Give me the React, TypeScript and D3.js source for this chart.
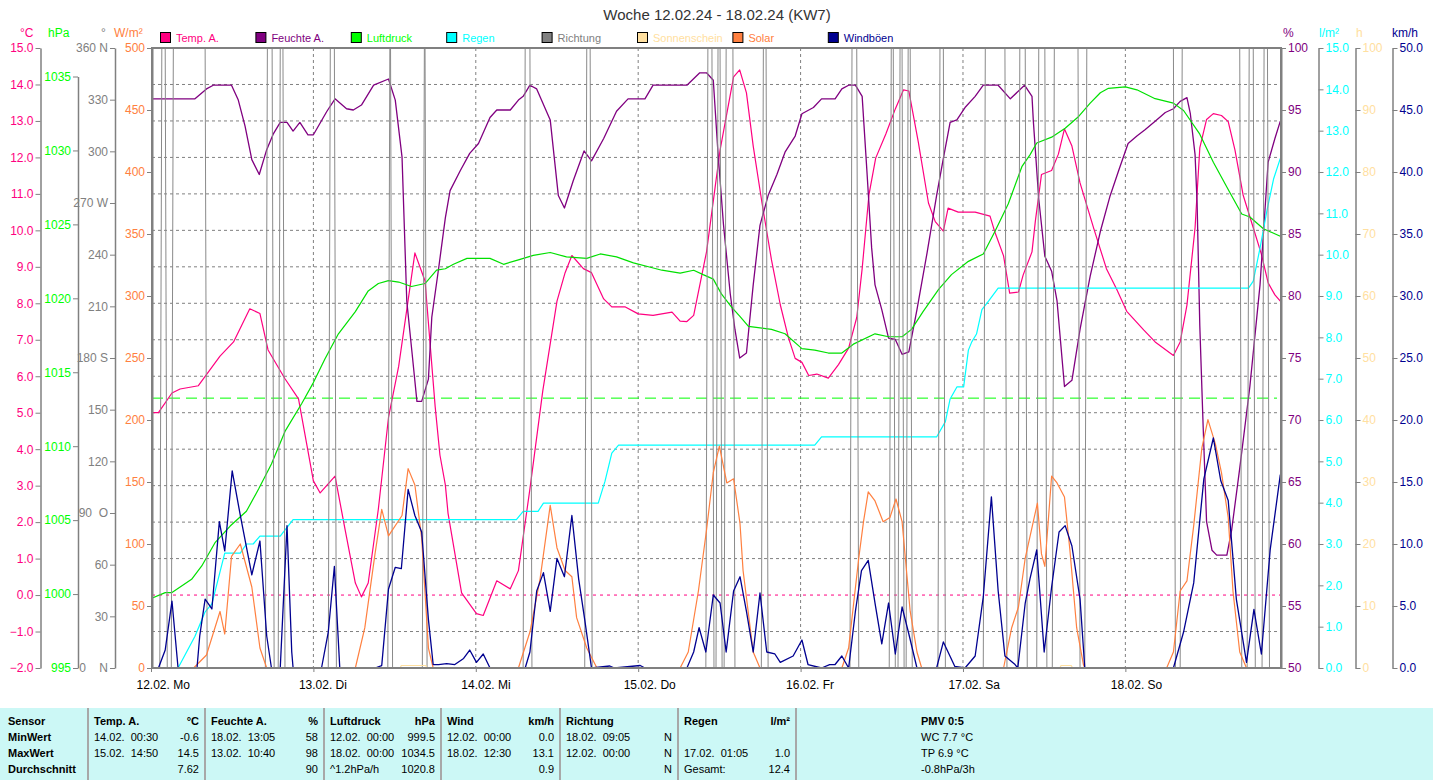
import React, { useEffect, useRef } from 'react';
import * as d3 from 'd3';

// [hours since 12.02. 00:00, value]
type Pt = [number, number];

const FONT = "'Liberation Sans', Arial, sans-serif";

const title = 'Woche 12.02.24 - 18.02.24 (KW7)';
const dayLabels = ['12.02. Mo', '13.02. Di', '14.02. Mi', '15.02. Do', '16.02. Fr', '17.02. Sa', '18.02. So'];

const tempData: Pt[] = [
  [0, 5.0], [1.1, 5.0], [3.1, 5.54], [4.3, 5.65], [7.0, 5.74], [10.2, 6.55], [12.2, 6.94], [14.6, 7.85],
  [16.1, 7.72], [17.3, 6.72], [19.8, 5.93], [21.8, 5.38], [24.0, 3.13], [25.0, 2.8], [27.2, 3.26], [28.7, 1.78],
  [30.2, 0.33], [31.1, -0.05], [32.1, 0.33], [33.6, 2.36], [35.1, 4.87], [36.6, 6.27], [39.0, 9.38], [40.5, 8.61],
  [42.0, 5.16], [42.7, 3.84], [43.5, 3.02], [43.9, 2.24], [45.9, 0.06], [48.1, -0.51], [49.1, -0.56], [51.1, 0.39],
  [53.1, 0.17], [54.3, 0.67], [56.0, 2.91], [57.9, 5.6], [60.0, 8.06], [61.2, 8.84], [62.2, 9.31], [63.9, 8.95],
  [65.1, 8.84], [66.9, 8.12], [68.1, 7.9], [70.1, 7.9], [72.0, 7.71], [74.2, 7.67], [77.0, 7.76], [78.2, 7.51],
  [79.2, 7.5], [80.2, 7.67], [82.1, 9.41], [84.1, 12.2], [86.1, 14.21], [87.0, 14.4], [88.0, 13.77], [89.0, 12.31],
  [90.3, 10.75], [91.7, 9.19], [93.0, 7.96], [94.2, 7.06], [95.2, 6.49], [96.2, 6.38], [97.2, 6.02], [98.4, 6.06],
  [100.1, 5.95], [101.6, 6.32], [103.1, 6.77], [104.3, 7.61], [105.1, 8.95], [106.1, 10.97], [107.1, 11.98],
  [108.6, 12.64], [110.0, 13.33], [111.2, 13.85], [112.0, 13.82], [113.4, 12.42], [114.9, 10.75], [115.9, 10.24],
  [117.1, 9.98], [117.8, 10.61], [119.3, 10.5], [121.8, 10.5], [124.0, 10.39], [124.7, 9.96], [126.0, 9.3],
  [126.9, 8.28], [128.2, 8.31], [128.9, 8.78], [130.2, 9.41], [130.7, 10.26], [131.6, 11.53], [133.1, 11.64],
  [134.1, 12.09], [135.0, 12.78], [136.1, 12.31], [137.3, 11.3], [139.3, 10.07], [141.2, 8.95], [142.7, 8.39],
  [144.2, 7.78], [146.7, 7.27], [148.4, 6.94], [151.1, 6.57], [152.1, 6.94], [153.1, 7.95], [154.3, 10.07],
  [155.0, 12.26], [156.0, 13.04], [157.0, 13.2], [158.2, 13.15], [159.2, 12.98], [160.2, 12.2], [161.4, 10.97],
  [162.9, 10.07], [164.1, 9.35], [165.1, 8.56], [166.1, 8.23], [166.9, 8.06],
];

const humData: Pt[] = [
  [0, 95.9], [6.5, 95.9], [8.2, 96.7], [9.2, 97.0], [11.9, 97.0], [12.9, 95.8], [13.9, 93.7], [14.9, 91.0],
  [16.0, 89.8], [17.1, 91.8], [18.1, 93.1], [19.1, 94.0], [20.1, 94.0], [21.0, 93.3], [22.0, 94.0], [23.2, 93.0],
  [24.0, 93.0], [26.0, 94.9], [27.2, 95.9], [28.9, 95.1], [29.9, 95.0], [31.1, 95.4], [32.9, 97.0], [35.1, 97.5],
  [36.1, 95.8], [37.1, 91.2], [37.8, 79.6], [38.6, 75.3], [39.3, 71.5], [40.0, 71.5], [41.0, 73.3], [41.5, 78.3],
  [42.5, 82.2], [43.5, 86.3], [44.2, 88.5], [45.7, 90.1], [47.1, 91.5], [48.4, 92.3], [50.1, 94.4], [51.1, 95.0],
  [53.1, 95.0], [54.3, 95.8], [55.0, 96.1], [56.0, 97.0], [57.0, 96.7], [59.0, 94.2], [60.2, 88.1], [61.1, 87.1],
  [62.4, 89.3], [64.0, 91.7], [65.1, 90.9], [66.9, 92.7], [68.8, 94.9], [70.5, 95.9], [73.0, 95.9], [74.2, 97.0],
  [79.2, 97.0], [81.1, 98.0], [82.1, 98.0], [83.1, 97.4], [83.8, 91.5], [84.6, 85.8], [85.6, 80.2], [86.3, 77.3],
  [87.0, 75.0], [88.0, 75.4], [89.0, 80.9], [90.0, 85.7], [91.2, 88.1], [92.5, 89.8], [93.7, 91.6], [95.2, 92.9],
  [96.2, 94.7], [97.9, 95.2], [99.1, 95.9], [101.1, 95.9], [102.1, 96.7], [103.1, 97.0], [104.1, 97.0],
  [105.1, 96.1], [105.8, 90.1], [106.5, 83.9], [107.0, 80.9], [108.0, 78.9], [109.0, 76.6], [110.0, 76.5],
  [111.0, 75.3], [112.0, 75.5], [113.2, 78.9], [114.7, 83.5], [116.1, 88.1], [117.1, 91.1], [118.1, 94.0],
  [119.1, 94.2], [120.3, 95.2], [121.8, 96.1], [123.0, 97.0], [125.2, 97.0], [127.0, 95.9], [129.1, 97.0],
  [130.2, 96.1], [130.4, 94.1], [131.2, 87.8], [132.1, 83.2], [133.1, 82.0], [133.9, 79.6], [135.0, 72.7],
  [136.1, 73.2], [137.3, 77.3], [138.8, 81.6], [140.3, 85.2], [141.7, 88.0], [143.0, 90.1], [144.4, 92.3],
  [145.7, 92.9], [146.9, 93.4], [148.4, 94.1], [149.9, 94.8], [151.1, 95.1], [152.1, 95.7], [153.1, 96.0],
  [153.6, 94.7], [154.3, 91.4], [154.6, 87.5], [155.0, 77.6], [155.5, 69.4], [156.0, 61.8], [156.8, 59.5],
  [157.5, 59.1], [159.0, 59.1], [159.7, 61.1], [160.9, 66.1], [162.4, 72.7], [163.9, 80.9], [165.1, 90.8],
  [166.1, 92.7], [166.9, 94.1],
];

const pressData: Pt[] = [
  [0, 999.7], [2.1, 1000.1], [3.1, 1000.1], [6.0, 1001.0], [7.5, 1001.9], [9.5, 1003.5], [11.7, 1004.6],
  [14.1, 1005.6], [15.9, 1007.1], [17.8, 1008.8], [19.8, 1011.0], [22.3, 1012.9], [24.0, 1014.3], [25.7, 1015.9],
  [27.7, 1017.6], [30.2, 1019.1], [32.1, 1020.5], [33.6, 1021.0], [35.1, 1021.2], [36.6, 1021.1], [38.5, 1020.8],
  [40.5, 1021.0], [42.2, 1021.9], [43.5, 1022.0], [44.7, 1022.3], [46.7, 1022.7], [50.1, 1022.7], [52.1, 1022.3],
  [54.3, 1022.6], [56.5, 1022.9], [59.0, 1023.1], [61.4, 1022.8], [64.4, 1022.7], [66.4, 1023.0], [68.8, 1022.8],
  [71.3, 1022.4], [73.8, 1022.1], [75.5, 1021.9], [78.2, 1021.7], [80.2, 1021.9], [81.6, 1021.6], [83.1, 1021.3],
  [84.3, 1020.3], [85.8, 1019.4], [87.0, 1018.8], [88.3, 1018.1], [91.7, 1017.9], [93.7, 1017.6], [96.2, 1016.6],
  [98.1, 1016.5], [100.1, 1016.3], [102.1, 1016.3], [103.8, 1016.9], [107.0, 1017.6], [109.0, 1017.4],
  [111.0, 1017.4], [112.4, 1017.9], [114.1, 1019.1], [116.4, 1020.6], [118.3, 1021.6], [120.8, 1022.5],
  [123.0, 1023.0], [124.7, 1024.5], [126.7, 1026.4], [128.7, 1028.9], [129.9, 1029.7], [130.9, 1030.5],
  [133.1, 1030.9], [135.1, 1031.5], [137.1, 1032.3], [138.8, 1033.2], [140.3, 1033.9], [141.5, 1034.2],
  [144.0, 1034.3], [145.7, 1034.1], [148.4, 1033.5], [151.1, 1033.2], [152.6, 1032.7], [155.0, 1031.1],
  [157.0, 1029.2], [159.5, 1027.1], [161.2, 1025.7], [162.4, 1025.5], [164.4, 1024.7], [166.9, 1024.2],
];

const rainData: Pt[] = [
  [0, 0], [4.0, 0], [6.5, 0.77], [8.0, 1.36], [9.0, 1.55], [10.9, 2.78], [13.2, 2.78], [14.1, 3.0], [15.1, 3.0],
  [16.1, 3.19], [19.1, 3.19], [21.0, 3.59], [54.0, 3.59], [55.0, 3.79], [57.2, 3.79], [58.0, 3.99], [66.1, 3.99],
  [67.1, 4.52], [68.1, 5.2], [69.1, 5.39], [98.1, 5.39], [99.1, 5.59], [116.1, 5.59], [117.4, 5.96], [118.1, 6.51],
  [119.1, 6.8], [120.1, 6.8], [120.8, 7.69], [121.3, 7.89], [122.0, 8.08], [122.8, 8.67], [123.8, 8.88],
  [125.2, 9.19], [162.2, 9.19], [162.9, 9.36], [163.9, 10.16], [164.9, 11.05], [165.9, 11.83], [166.9, 12.33],
];

const solarData: Pt[] = [
  [0, 0], [6.3, 0], [8.2, 10.5], [10.2, 45.6], [10.9, 27.4], [11.9, 90.1], [13.2, 100], [14.9, 65.3], [16.1, 16.1],
  [17.1, 0], [30.2, 0], [31.6, 32.5], [33.1, 91.9], [34.1, 127.9], [35.1, 106.5], [37.1, 123], [38.0, 160.8],
  [39.0, 147.6], [40.0, 104.8], [41.0, 16.1], [41.7, 0], [54.3, 0], [56.0, 29], [57.5, 71.9], [59.0, 131.2],
  [60.0, 96.8], [61.2, 78.6], [62.2, 73.6], [62.9, 40.6], [64.4, 16.1], [65.9, 0], [78.2, 0], [79.4, 12.9],
  [80.9, 62.1], [82.1, 111.3], [83.1, 157.5], [84.0, 179], [85.1, 149.2], [86.1, 152.6], [87.05, 116.4],
  [87.5, 78.6], [89.0, 12.9], [90.0, 0], [102.1, 0], [103.1, 16.1], [104.6, 88.7], [105.3, 118], [106.0, 142],
  [107.0, 134.7], [108.2, 118], [109.2, 121.3], [110.1, 136.3], [111.0, 118], [112.2, 45.6], [113.2, 12.9],
  [113.9, 0], [126.0, 0], [127.2, 32.5], [128.2, 49.2], [129.2, 88.7], [131.0, 133], [131.6, 92], [132.1, 81.9],
  [133.1, 154.8], [133.9, 149.2], [135.0, 137.9], [135.8, 95.2], [136.8, 32.5], [137.8, 2.8], [138.0, 0],
  [150.1, 0], [151.1, 12.9], [152.1, 62.1], [153.1, 70.2], [154.1, 114.8], [155.3, 177.4], [156.2, 200.3],
  [157.3, 180.7], [158.2, 157.5], [159.2, 121.3], [159.9, 62.1], [160.9, 12.9], [161.9, 0], [166.9, 0],
];

const sunData: Pt[] = [
  [0, 0], [36.8, 0], [37.0, 0.4], [40.6, 0.4], [40.8, 0], [134.3, 0], [134.5, 0.4], [136.0, 0.4], [136.2, 0], [166.9, 0],
];

const gustData: Pt[] = [
  [0, 0], [1.1, 0], [2.1, 1.45], [3.1, 5.4], [4.0, 0], [6.8, 0], [7.2, 2.58], [8.0, 5.56], [9.0, 4.76],
  [10.1, 11.8], [10.9, 9.44], [12.0, 15.9], [13.2, 12.3], [14.9, 7.52], [16.1, 10.24], [17.1, 2.58], [17.8, 0],
  [19.1, 0], [20.1, 11.48], [20.8, 1.29], [21.0, 0], [25.2, 0], [26.2, 2.9], [27.1, 8.19], [27.9, 0], [33.1, 0],
  [34.1, 0.2], [35.1, 6.37], [36.1, 8.12], [37.0, 8.02], [38.0, 14.4], [39.0, 12.3], [40.0, 10.97], [41.0, 3.9],
  [41.7, 0.28], [42.5, 0.28], [43.7, 0.35], [44.9, 0.28], [46.2, 0.77], [47.1, 1.45], [48.1, 0.45], [49.1, 1.13],
  [50.1, 0], [55.3, 0], [56.0, 1.29], [57.0, 6.21], [58.0, 7.69], [59.0, 4.56], [60.0, 8.84], [61.1, 7.36],
  [62.2, 12.3], [63.2, 7.19], [64.1, 3.9], [65.1, 0], [67.8, 0.16], [68.5, 0], [72.3, 0.2], [73.0, 0], [79.2, 0],
  [80.2, 1.29], [81.0, 3.25], [82.0, 1.29], [83.1, 5.89], [84.1, 5.24], [85.0, 1.29], [86.1, 6.21], [87.05, 7.36],
  [88.0, 4.56], [89.0, 1.29], [90.0, 6.05], [91.0, 1.29], [92.2, 1.13], [93.0, 0.45], [94.9, 0.97], [96.2, 2.26],
  [97.1, 0.28], [99.1, 0], [100.3, 0.28], [101.1, 0.28], [102.1, 0.97], [103.1, 0], [104.1, 4.56], [105.0, 7.86],
  [106.0, 8.68], [107.0, 5.24], [108.0, 1.94], [109.0, 5.24], [110.0, 1.13], [111.0, 4.92], [112.0, 2.74],
  [113.2, 0], [116.1, 0], [117.1, 2.1], [118.8, 0.12], [120.3, 0], [121.8, 0.97], [123.0, 5.73], [124.2, 13.8],
  [125.2, 6.21], [126.2, 0.97], [127.7, 0.28], [128.1, 0], [129.2, 5.24], [129.9, 7.19], [130.9, 9.52],
  [132.0, 1.29], [133.1, 6.53], [134.2, 10.97], [135.1, 11.48], [136.1, 9.84], [137.3, 5.56], [138.0, 0],
  [151.1, 0], [152.6, 2.9], [154.1, 6.86], [155.6, 15.26], [157.0, 18.55], [158.1, 15.1], [159.2, 13.5],
  [160.4, 5.56], [161.9, 0.45], [163.0, 4.73], [164.1, 1.13], [165.4, 9.52], [166.9, 15.6],
];

// wind direction flips between 0° (N) and 360° (N) at these hours
const dirSwitchHours = [
  1.3, 2.1, 3.0, 8.0, 16.9, 17.9, 18.8, 19.5, 26.2, 27.1, 35.0, 35.4, 40.1, 40.5, 55.0, 56.0, 64.1, 64.9,
  82.0, 82.9, 83.5, 84.1, 84.7, 86.0, 90.2, 90.9, 103.3, 104.3, 109.1, 109.7, 110.4, 111.0, 111.6, 112.2,
  116.3, 117.1, 123.0, 126.2, 128.1, 129.2, 130.9, 132.1, 133.2, 137.0, 138.0, 151.1, 152.1, 160.9, 162.0,
  162.9, 164.2, 165.0,
];

const legendItems = [
  { label: 'Temp. A.', color: '#FF0080' },
  { label: 'Feuchte A.', color: '#800080' },
  { label: 'Luftdruck', color: '#00FF00' },
  { label: 'Regen', color: '#00FFFF' },
  { label: 'Richtung', color: '#808080' },
  { label: 'Sonnenschein', color: '#FFE0A0' },
  { label: 'Solar', color: '#FF8040' },
  { label: 'Windböen', color: '#000090' },
];

const tableHead = [['Temp. A.', '°C'], ['Feuchte A.', '%'], ['Luftdruck', 'hPa'], ['Wind', 'km/h'], ['Richtung', ''], ['Regen', 'l/m²']];
const tableMin = [['14.02.  00:30', '-0.6'], ['18.02.  13:05', '58'], ['12.02.  00:00', '999.5'], ['12.02.  00:00', '0.0'], ['18.02.  09:05', 'N'], ['', '']];
const tableMax = [['15.02.  14:50', '14.5'], ['13.02.  10:40', '98'], ['18.02.  00:00', '1034.5'], ['18.02.  12:30', '13.1'], ['12.02.  00:00', 'N'], ['17.02.  01:05', '1.0']];
const tableAvg = [['', '7.62'], ['', '90'], ['^1.2hPa/h', '1020.8'], ['', '0.9'], ['', 'N'], ['Gesamt:', '12.4']];
const rowNames = ['Sensor', 'MinWert', 'MaxWert', 'Durchschnitt'];
const pmvLines = ['PMV 0:5', 'WC 7.7 °C', 'TP 6.9 °C', '-0.8hPa/3h'];

export default function App() {
  const svgRef = useRef<SVGSVGElement>(null);

  useEffect(() => {
    if (!svgRef.current) return;
    const svg = d3.select(svgRef.current);
    svg.selectAll('*').remove();
    svg.attr('font-family', FONT);

    const left = 152, right = 1281, top = 48, bottom = 668;

    const x = d3.scaleLinear().domain([0, 167]).range([151, 1281]);
    const yTemp = d3.scaleLinear().domain([-2, 15]).range([bottom, top]);
    const yPress = d3.scaleLinear().domain([995, 1035]).range([bottom, 76.5]);
    const yDir = d3.scaleLinear().domain([0, 360]).range([bottom, top]);
    const ySolar = d3.scaleLinear().domain([0, 500]).range([bottom, top]);
    const yHum = d3.scaleLinear().domain([50, 100]).range([bottom, top]);
    const yRain = d3.scaleLinear().domain([0, 15]).range([bottom, top]);
    const ySun = d3.scaleLinear().domain([0, 100]).range([bottom, top]);
    const yWind = d3.scaleLinear().domain([0, 50]).range([bottom, top]);

    svg.append('rect').attr('width', 1433).attr('height', 780).attr('fill', '#fff');

    // title
    svg.append('text').attr('x', 717).attr('y', 20).attr('text-anchor', 'middle')
      .attr('font-size', 15).attr('fill', '#333').text(title);

    // legend
    const lg = svg.append('g');
    legendItems.forEach((d, i) => {
      const lx = 160 + i * 95.4;
      lg.append('rect').attr('x', lx + 0.5).attr('y', 32.5).attr('width', 10).attr('height', 10)
        .attr('fill', d.color).attr('stroke', '#000');
      lg.append('text').attr('x', lx + 16).attr('y', 42).attr('font-size', 11).attr('fill', d.color).text(d.label);
    });

    // unit labels
    const units = [
      { t: '°C', x: 20, c: '#FF0080' }, { t: 'hPa', x: 48, c: '#00FF00' }, { t: '°', x: 101, c: '#808080' },
      { t: 'W/m²', x: 114, c: '#FF8040' }, { t: '%', x: 1283, c: '#800080' }, { t: 'l/m²', x: 1319, c: '#00FFFF' },
      { t: 'h', x: 1356, c: '#FFE0A0' }, { t: 'km/h', x: 1392, c: '#000090' },
    ];
    units.forEach(u => svg.append('text').attr('x', u.x).attr('y', 37).attr('font-size', 12).attr('fill', u.c).text(u.t));

    // grid
    const grid = svg.append('g');
    d3.range(-1, 15).filter(t => t !== 0).forEach(t => {
      grid.append('line').attr('x1', left).attr('x2', right).attr('y1', yTemp(t)).attr('y2', yTemp(t))
        .attr('stroke', '#808080').attr('stroke-dasharray', '3,3');
    });
    d3.range(1, 7).forEach(d => {
      grid.append('line').attr('x1', x(d * 24)).attr('x2', x(d * 24)).attr('y1', top).attr('y2', bottom)
        .attr('stroke', '#808080').attr('stroke-dasharray', '3,3');
    });
    grid.append('line').attr('x1', left).attr('x2', right).attr('y1', yTemp(0)).attr('y2', yTemp(0))
      .attr('stroke', '#FF0080').attr('stroke-dasharray', '3,4');
    grid.append('line').attr('x1', left).attr('x2', right - 4).attr('y1', yPress(1013.25)).attr('y2', yPress(1013.25))
      .attr('stroke', '#00FF00').attr('stroke-dasharray', '11,6');

    // clip
    svg.append('clipPath').attr('id', 'plotclip').append('rect')
      .attr('x', left).attr('y', top - 1).attr('width', right - left).attr('height', bottom - top + 2);

    const series = svg.append('g').attr('clip-path', 'url(#plotclip)');
    const draw = (data: Pt[], y: d3.ScaleLinear<number, number>, color: string, w = 1.2) => {
      const line = d3.line<Pt>().x(d => x(d[0])).y(d => y(d[1]));
      series.append('path').datum(data).attr('d', line).attr('fill', 'none')
        .attr('stroke', color).attr('stroke-width', w).attr('stroke-linejoin', 'round');
    };

    const dirData: Pt[] = [[0, 0]];
    let cur = 0;
    dirSwitchHours.forEach(h => {
      dirData.push([h, cur]);
      cur = 360 - cur;
      dirData.push([h + 0.3, cur]);
    });
    dirData.push([167, cur]);

    draw(tempData, yTemp, '#FF0080');
    draw(humData, yHum, '#800080', 1.3);
    draw(pressData, yPress, '#00E000');
    draw(rainData, yRain, '#00FFFF');
    draw(dirData, yDir, '#8a8a8a', 1);
    draw(sunData, ySun, '#FFE0A0');
    draw(solarData, ySolar, '#FF8040');
    draw(gustData, yWind, '#000090', 1.3);

    // axes
    const styleAxis = (g: d3.Selection<SVGGElement, unknown, null, undefined>, color: string, width = 1.5) => {
      g.attr('font-family', FONT).attr('font-size', 12);
      g.select('.domain').attr('stroke', '#808080').attr('stroke-width', width);
      g.selectAll('.tick line').attr('stroke', '#808080');
      g.selectAll('.tick text').attr('fill', color).style('white-space', 'pre');
    };

    const leftAxis = (pos: number, scale: d3.ScaleLinear<number, number>, ticks: number[], fmt: (v: number) => string, color: string, width = 1.5) => {
      const g = svg.append('g').attr('transform', `translate(${pos},0)`)
        .call(d3.axisLeft(scale).tickValues(ticks).tickFormat(v => fmt(+v)).tickSize(5).tickSizeOuter(0).tickPadding(2));
      styleAxis(g, color, width);
    };
    const rightAxis = (pos: number, scale: d3.ScaleLinear<number, number>, ticks: number[], fmt: (v: number) => string, color: string, width = 1.5) => {
      const g = svg.append('g').attr('transform', `translate(${pos},0)`)
        .call(d3.axisRight(scale).tickValues(ticks).tickFormat(v => fmt(+v)).tickSize(5).tickSizeOuter(0).tickPadding(2));
      styleAxis(g, color, width);
    };

    const dirNames: Record<number, string> = { 360: '360 N', 270: '270 W', 180: '180 S', 90: '90  O', 0: '0    N' };

    leftAxis(40.5, yTemp, d3.range(-2, 16), d3.format('.1f'), '#FF0080');
    leftAxis(78, yPress, d3.range(995, 1036, 5), d3.format('d'), '#00FF00');
    leftAxis(115, yDir, d3.range(0, 361, 30), v => dirNames[v] ?? String(v), '#808080');
    rightAxis(1318.5, yRain, d3.range(0, 16), d3.format('.1f'), '#00FFFF');
    rightAxis(1355.5, ySun, d3.range(0, 101, 10), d3.format('d'), '#FFE0A0');
    rightAxis(1392.5, yWind, d3.range(0, 51, 5), d3.format('.1f'), '#000090');

    // plot frame
    svg.append('rect').attr('x', left).attr('y', top).attr('width', right - left).attr('height', bottom - top)
      .attr('fill', 'none').attr('stroke', '#808080').attr('stroke-width', 2);
    leftAxis(left, ySolar, d3.range(0, 501, 50), d3.format('d'), '#FF8040', 2);
    rightAxis(right, yHum, d3.range(50, 101, 5), d3.format('d'), '#800080', 2);

    // x axis
    const xg = svg.append('g').attr('transform', `translate(0,${bottom})`)
      .call(d3.axisBottom(x).tickValues(d3.range(0, 145, 24)).tickFormat((_, i) => dayLabels[i]).tickSize(4).tickSizeOuter(0));
    xg.attr('font-family', FONT).attr('font-size', 12);
    xg.select('.domain').remove();
    xg.selectAll('.tick line').attr('stroke', '#808080');
    xg.selectAll('.tick text').attr('fill', '#000').attr('text-anchor', 'start').attr('x', -15).attr('y', 12).attr('dy', '0.71em');

    // summary table
    const tb = svg.append('g').attr('font-size', 11).attr('fill', '#000');
    tb.append('rect').attr('x', 0).attr('y', 708).attr('width', 1433).attr('height', 72).attr('fill', '#CCF8F6');
    const seps = [88, 205, 324, 441, 560, 678, 796];
    seps.forEach(sx => tb.append('line').attr('x1', sx).attr('x2', sx).attr('y1', 708).attr('y2', 780)
      .attr('stroke', '#A8A8A8').attr('stroke-width', 2));
    const rowY = [725, 741, 757, 773];
    rowNames.forEach((n, i) => tb.append('text').attr('x', 8).attr('y', rowY[i]).attr('font-weight', 'bold').text(n));
    const rows = [tableHead, tableMin, tableMax, tableAvg];
    rows.forEach((row, ri) => {
      row.forEach((cell, ci) => {
        const lx = seps[ci] + 6;
        const rx = seps[ci + 1] - 6;
        const t1 = tb.append('text').attr('x', lx).attr('y', rowY[ri]).style('white-space', 'pre').text(cell[0]);
        const t2 = tb.append('text').attr('x', rx).attr('y', rowY[ri]).attr('text-anchor', 'end').text(cell[1]);
        if (ri === 0) { t1.attr('font-weight', 'bold'); t2.attr('font-weight', 'bold'); }
      });
    });
    pmvLines.forEach((t, i) => {
      const el = tb.append('text').attr('x', 921).attr('y', rowY[i]).text(t);
      if (i === 0) el.attr('font-weight', 'bold');
    });
  }, []);

  return (
    <div>
      <style>{'body{margin:0}'}</style>
      <svg ref={svgRef} width={1433} height={780}></svg>
    </div>
  );
}
